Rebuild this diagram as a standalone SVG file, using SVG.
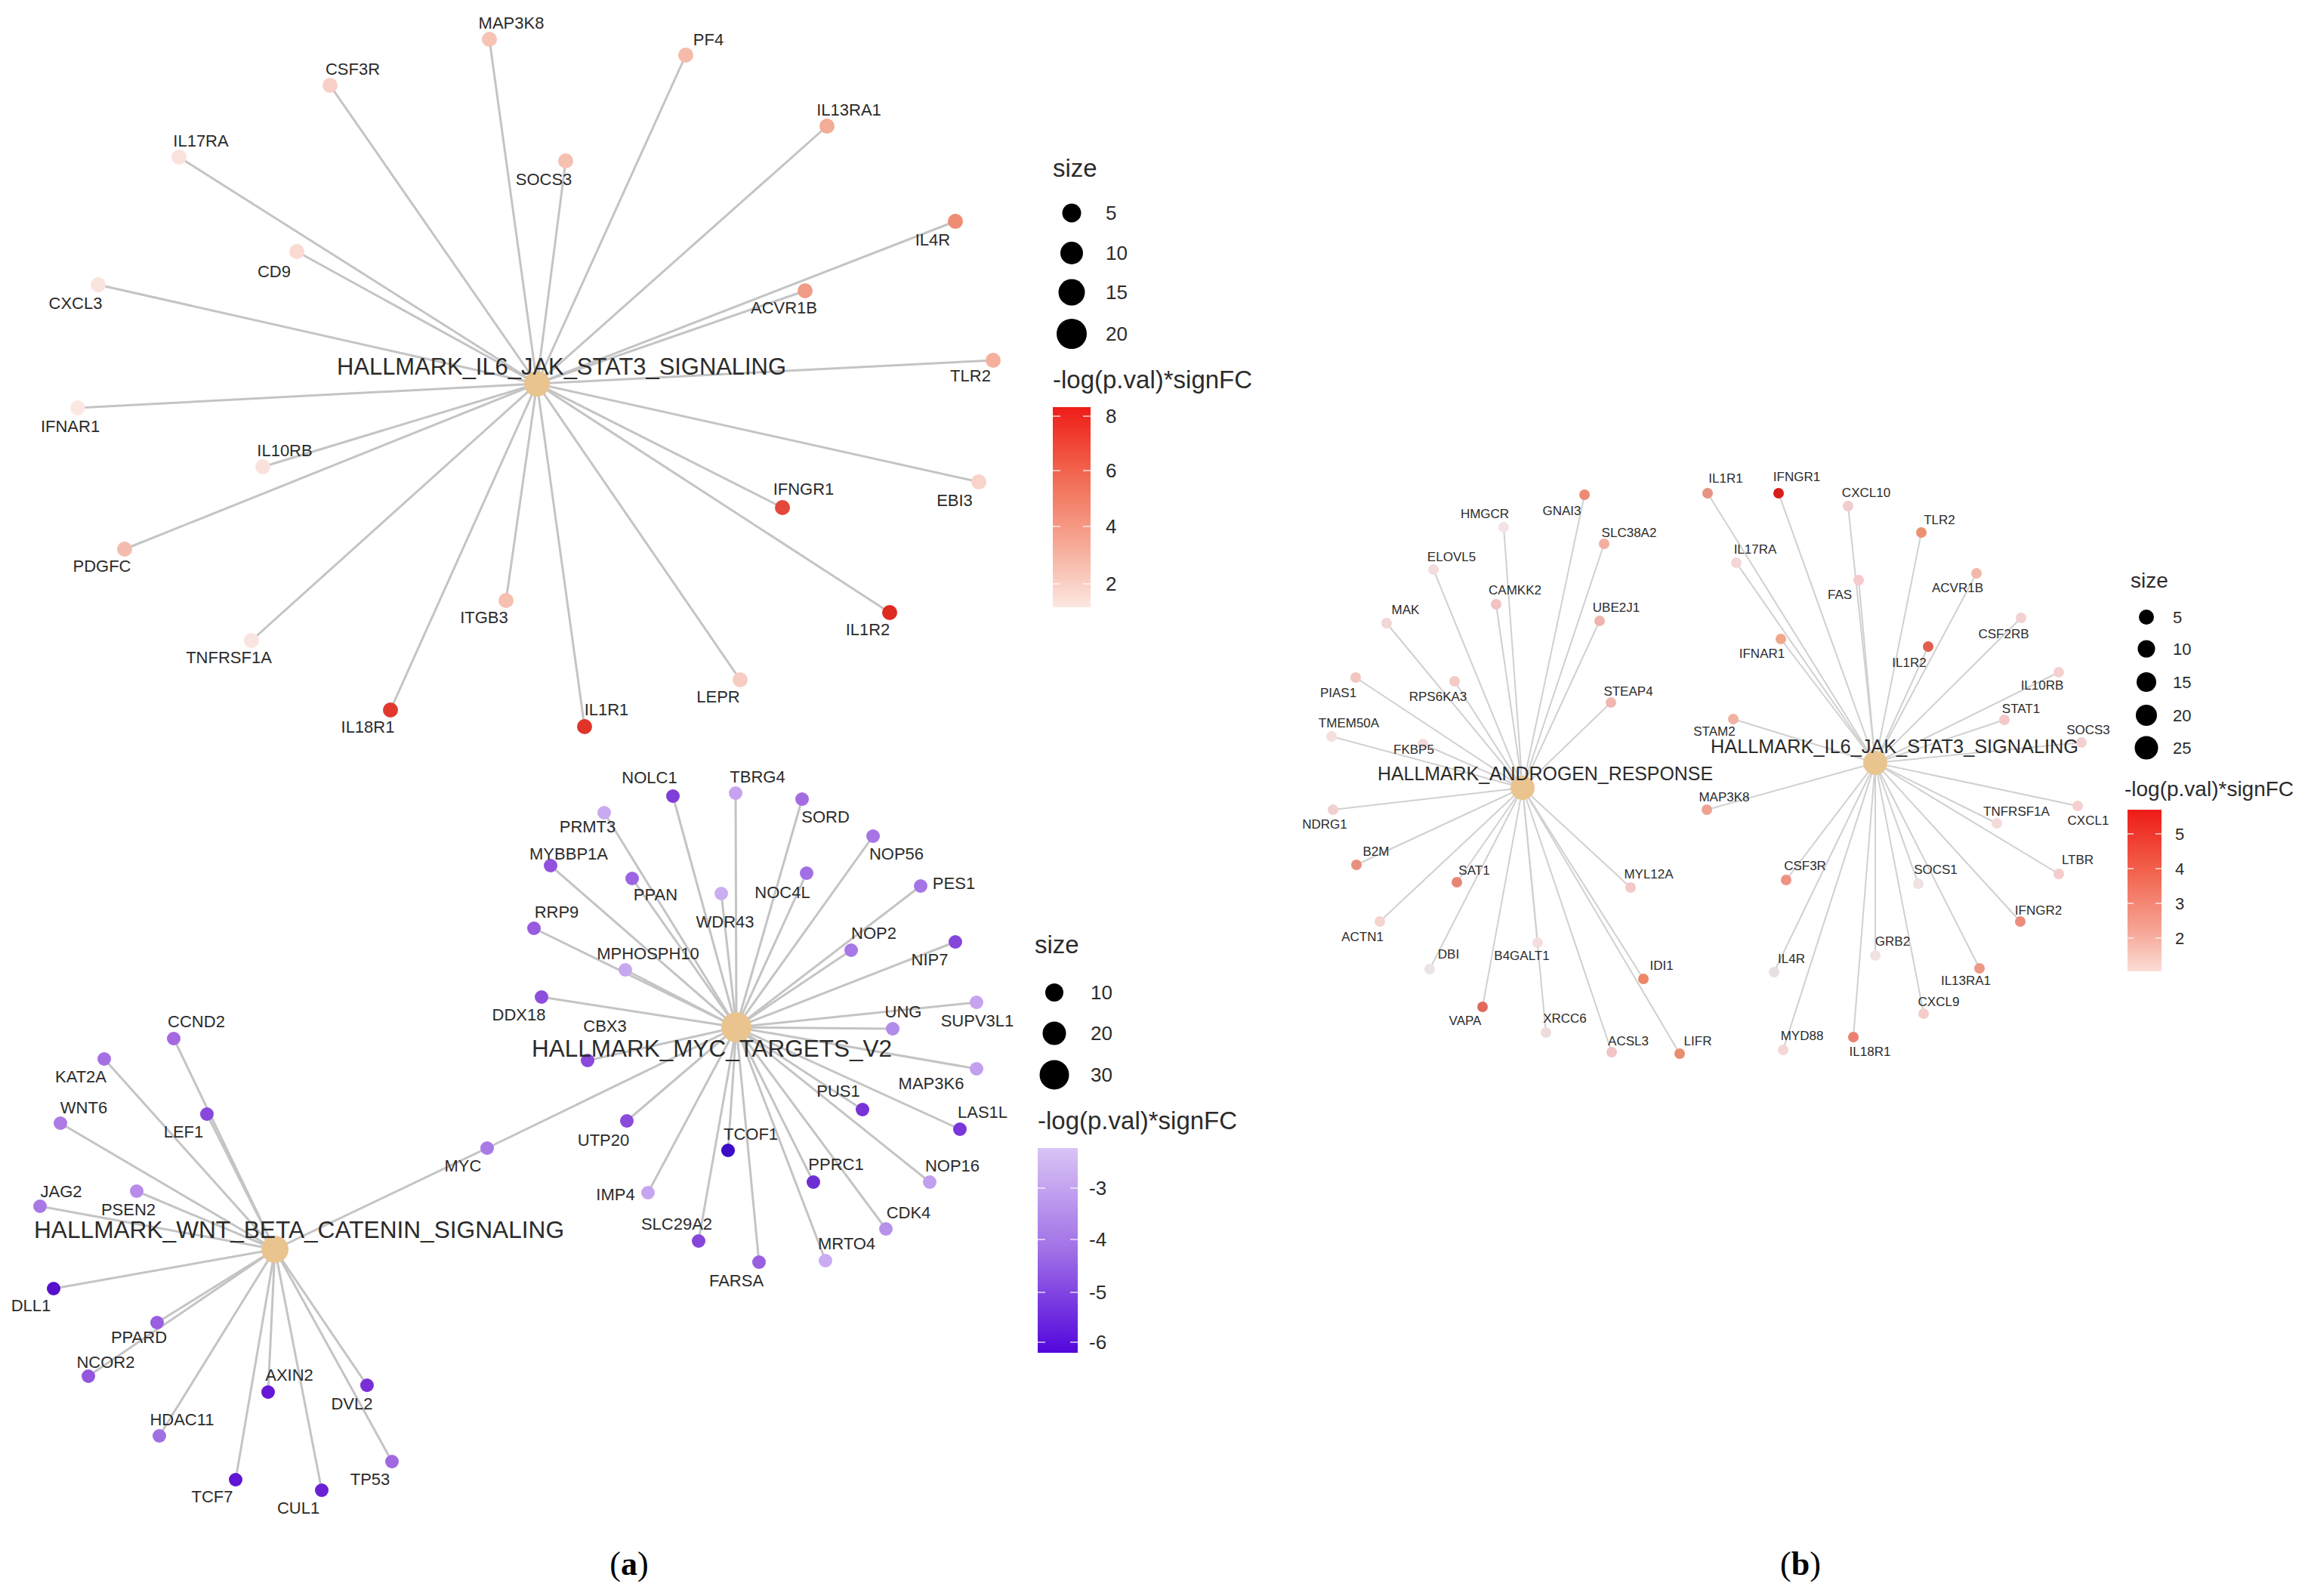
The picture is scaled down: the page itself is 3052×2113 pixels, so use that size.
<svg xmlns="http://www.w3.org/2000/svg" width="3052" height="2113" viewBox="0 0 3052 2113">
<defs>
<linearGradient id="gRed" x1="0" y1="0" x2="0" y2="1">
<stop offset="0" stop-color="#EE1D18"/><stop offset="0.35" stop-color="#F26A52"/><stop offset="0.68" stop-color="#F6A894"/><stop offset="1" stop-color="#FCE7E2"/>
</linearGradient>
<linearGradient id="gPur" x1="0" y1="0" x2="0" y2="1">
<stop offset="0" stop-color="#D9C3F5"/><stop offset="0.5" stop-color="#A070E6"/><stop offset="1" stop-color="#5306DC"/>
</linearGradient>
<linearGradient id="gRedB" x1="0" y1="0" x2="0" y2="1">
<stop offset="0" stop-color="#EE1C18"/><stop offset="0.4" stop-color="#F26650"/><stop offset="0.75" stop-color="#F6A696"/><stop offset="1" stop-color="#FBDDD7"/>
</linearGradient>
</defs>
<style>
text{font-family:"Liberation Sans",Arial,sans-serif;fill:#2b2b2b}
.e{stroke:#c4c4c4;stroke-width:3;fill:none}
.eb{stroke:#d0d0d0;stroke-width:2;fill:none}
.l{font-size:22px;text-anchor:middle}
.lb{font-size:17px;text-anchor:middle}
.hub{fill:#EAC48F}
.ht{font-size:31px}
.htb{font-size:25px}
.lt{font-size:33px}
.lk{font-size:26px}
.ltb{font-size:28px}
.lkb{font-size:22px}
.tk{stroke:#ffffff;stroke-width:1.5;opacity:0.8}
.pl{font-family:"Liberation Serif","Times New Roman",serif;font-size:44px;text-anchor:middle;fill:#000}
</style>
<rect width="3052" height="2113" fill="#ffffff"/>

<g id="connectors">
<g class="e">
<line x1="711" y1="508" x2="648" y2="52"/>
<line x1="711" y1="508" x2="437" y2="113"/>
<line x1="711" y1="508" x2="908" y2="73"/>
<line x1="711" y1="508" x2="1095" y2="167"/>
<line x1="711" y1="508" x2="237" y2="208"/>
<line x1="711" y1="508" x2="749" y2="213"/>
<line x1="711" y1="508" x2="1265" y2="293"/>
<line x1="711" y1="508" x2="393" y2="333"/>
<line x1="711" y1="508" x2="1066" y2="385"/>
<line x1="711" y1="508" x2="130" y2="377"/>
<line x1="711" y1="508" x2="1315" y2="477"/>
<line x1="711" y1="508" x2="103" y2="540"/>
<line x1="711" y1="508" x2="348" y2="618"/>
<line x1="711" y1="508" x2="1036" y2="672"/>
<line x1="711" y1="508" x2="1296" y2="638"/>
<line x1="711" y1="508" x2="165" y2="727"/>
<line x1="711" y1="508" x2="670" y2="795"/>
<line x1="711" y1="508" x2="1178" y2="811"/>
<line x1="711" y1="508" x2="333" y2="848"/>
<line x1="711" y1="508" x2="980" y2="900"/>
<line x1="711" y1="508" x2="517" y2="940"/>
<line x1="711" y1="508" x2="774" y2="962"/>
</g>
<g class="e">
<line x1="975" y1="1360" x2="891" y2="1054"/>
<line x1="975" y1="1360" x2="974" y2="1050"/>
<line x1="975" y1="1360" x2="1062" y2="1058"/>
<line x1="975" y1="1360" x2="800" y2="1076"/>
<line x1="975" y1="1360" x2="1156" y2="1107"/>
<line x1="975" y1="1360" x2="729" y2="1146"/>
<line x1="975" y1="1360" x2="837" y2="1163"/>
<line x1="975" y1="1360" x2="1068" y2="1156"/>
<line x1="975" y1="1360" x2="1219" y2="1173"/>
<line x1="975" y1="1360" x2="955" y2="1183"/>
<line x1="975" y1="1360" x2="707" y2="1229"/>
<line x1="975" y1="1360" x2="1127" y2="1258"/>
<line x1="975" y1="1360" x2="1265" y2="1247"/>
<line x1="975" y1="1360" x2="828" y2="1284"/>
<line x1="975" y1="1360" x2="717" y2="1320"/>
<line x1="975" y1="1360" x2="1182" y2="1362"/>
<line x1="975" y1="1360" x2="1293" y2="1327"/>
<line x1="975" y1="1360" x2="778" y2="1404"/>
<line x1="975" y1="1360" x2="1293" y2="1415"/>
<line x1="975" y1="1360" x2="1142" y2="1469"/>
<line x1="975" y1="1360" x2="1271" y2="1495"/>
<line x1="975" y1="1360" x2="830" y2="1484"/>
<line x1="975" y1="1360" x2="964" y2="1523"/>
<line x1="975" y1="1360" x2="1077" y2="1565"/>
<line x1="975" y1="1360" x2="1231" y2="1565"/>
<line x1="975" y1="1360" x2="858" y2="1579"/>
<line x1="975" y1="1360" x2="1173" y2="1627"/>
<line x1="975" y1="1360" x2="925" y2="1643"/>
<line x1="975" y1="1360" x2="1093" y2="1669"/>
<line x1="975" y1="1360" x2="1005" y2="1671"/>
<line x1="975" y1="1360" x2="645" y2="1520"/>
<line x1="364" y1="1654" x2="645" y2="1520"/>
</g>
<g class="e">
<line x1="364" y1="1654" x2="230" y2="1375"/>
<line x1="364" y1="1654" x2="138" y2="1402"/>
<line x1="364" y1="1654" x2="80" y2="1487"/>
<line x1="364" y1="1654" x2="274" y2="1475"/>
<line x1="364" y1="1654" x2="53" y2="1597"/>
<line x1="364" y1="1654" x2="181" y2="1577"/>
<line x1="364" y1="1654" x2="71" y2="1706"/>
<line x1="364" y1="1654" x2="208" y2="1751"/>
<line x1="364" y1="1654" x2="117" y2="1822"/>
<line x1="364" y1="1654" x2="355" y2="1843"/>
<line x1="364" y1="1654" x2="486" y2="1834"/>
<line x1="364" y1="1654" x2="211" y2="1901"/>
<line x1="364" y1="1654" x2="519" y2="1935"/>
<line x1="364" y1="1654" x2="312" y2="1959"/>
<line x1="364" y1="1654" x2="426" y2="1973"/>
</g>
<g class="eb">
<line x1="2016" y1="1043" x2="1991" y2="698"/>
<line x1="2016" y1="1043" x2="2098" y2="655"/>
<line x1="2016" y1="1043" x2="2124" y2="720"/>
<line x1="2016" y1="1043" x2="1898" y2="754"/>
<line x1="2016" y1="1043" x2="1981" y2="800"/>
<line x1="2016" y1="1043" x2="1836" y2="825"/>
<line x1="2016" y1="1043" x2="2118" y2="822"/>
<line x1="2016" y1="1043" x2="1795" y2="897"/>
<line x1="2016" y1="1043" x2="1926" y2="902"/>
<line x1="2016" y1="1043" x2="2133" y2="930"/>
<line x1="2016" y1="1043" x2="1763" y2="975"/>
<line x1="2016" y1="1043" x2="1884" y2="985"/>
<line x1="2016" y1="1043" x2="1765" y2="1072"/>
<line x1="2016" y1="1043" x2="1796" y2="1145"/>
<line x1="2016" y1="1043" x2="1929" y2="1168"/>
<line x1="2016" y1="1043" x2="2159" y2="1175"/>
<line x1="2016" y1="1043" x2="1827" y2="1220"/>
<line x1="2016" y1="1043" x2="1893" y2="1283"/>
<line x1="2016" y1="1043" x2="2036" y2="1248"/>
<line x1="2016" y1="1043" x2="2176" y2="1296"/>
<line x1="2016" y1="1043" x2="1963" y2="1333"/>
<line x1="2016" y1="1043" x2="2047" y2="1367"/>
<line x1="2016" y1="1043" x2="2134" y2="1393"/>
<line x1="2016" y1="1043" x2="2224" y2="1395"/>
</g>
<g class="eb">
<line x1="2483" y1="1010" x2="2261" y2="653"/>
<line x1="2483" y1="1010" x2="2355" y2="653"/>
<line x1="2483" y1="1010" x2="2447" y2="670"/>
<line x1="2483" y1="1010" x2="2544" y2="705"/>
<line x1="2483" y1="1010" x2="2299" y2="745"/>
<line x1="2483" y1="1010" x2="2461" y2="768"/>
<line x1="2483" y1="1010" x2="2617" y2="759"/>
<line x1="2483" y1="1010" x2="2676" y2="818"/>
<line x1="2483" y1="1010" x2="2358" y2="846"/>
<line x1="2483" y1="1010" x2="2553" y2="856"/>
<line x1="2483" y1="1010" x2="2726" y2="890"/>
<line x1="2483" y1="1010" x2="2654" y2="953"/>
<line x1="2483" y1="1010" x2="2756" y2="983"/>
<line x1="2483" y1="1010" x2="2295" y2="952"/>
<line x1="2483" y1="1010" x2="2260" y2="1072"/>
<line x1="2483" y1="1010" x2="2644" y2="1090"/>
<line x1="2483" y1="1010" x2="2751" y2="1067"/>
<line x1="2483" y1="1010" x2="2726" y2="1157"/>
<line x1="2483" y1="1010" x2="2365" y2="1165"/>
<line x1="2483" y1="1010" x2="2540" y2="1170"/>
<line x1="2483" y1="1010" x2="2675" y2="1220"/>
<line x1="2483" y1="1010" x2="2483" y2="1265"/>
<line x1="2483" y1="1010" x2="2349" y2="1287"/>
<line x1="2483" y1="1010" x2="2621" y2="1282"/>
<line x1="2483" y1="1010" x2="2547" y2="1342"/>
<line x1="2483" y1="1010" x2="2361" y2="1390"/>
<line x1="2483" y1="1010" x2="2454" y2="1373"/>
</g>
</g>

<g id="a1-nodes">
<g id="a1-hub"><circle class="hub" cx="711" cy="508" r="17"/></g>
<g id="a1-MAP3K8"><circle cx="648" cy="52" r="10" fill="#F6C3B5"/><text class="l" x="677" y="38">MAP3K8</text></g>
<g id="a1-CSF3R"><circle cx="437" cy="113" r="10" fill="#F8CFC6"/><text class="l" x="467" y="99">CSF3R</text></g>
<g id="a1-PF4"><circle cx="908" cy="73" r="10" fill="#F5BAA8"/><text class="l" x="938" y="60">PF4</text></g>
<g id="a1-IL13RA1"><circle cx="1095" cy="167" r="10" fill="#F3AC96"/><text class="l" x="1124" y="153">IL13RA1</text></g>
<g id="a1-IL17RA"><circle cx="237" cy="208" r="10" fill="#FBE2DC"/><text class="l" x="266" y="194">IL17RA</text></g>
<g id="a1-SOCS3"><circle cx="749" cy="213" r="10" fill="#F6C0B1"/><text class="l" x="720" y="245">SOCS3</text></g>
<g id="a1-IL4R"><circle cx="1265" cy="293" r="10" fill="#EE8D74"/><text class="l" x="1235" y="325">IL4R</text></g>
<g id="a1-CD9"><circle cx="393" cy="333" r="10" fill="#FADAD2"/><text class="l" x="363" y="367">CD9</text></g>
<g id="a1-ACVR1B"><circle cx="1066" cy="385" r="10" fill="#F09C86"/><text class="l" x="1038" y="415">ACVR1B</text></g>
<g id="a1-CXCL3"><circle cx="130" cy="377" r="10" fill="#FBE3DE"/><text class="l" x="100" y="409">CXCL3</text></g>
<g id="a1-TLR2"><circle cx="1315" cy="477" r="10" fill="#F4B09C"/><text class="l" x="1285" y="505">TLR2</text></g>
<g id="a1-IFNAR1"><circle cx="103" cy="540" r="10" fill="#FCE8E3"/><text class="l" x="93" y="572">IFNAR1</text></g>
<g id="a1-IL10RB"><circle cx="348" cy="618" r="10" fill="#FAE2DC"/><text class="l" x="377" y="604">IL10RB</text></g>
<g id="a1-IFNGR1"><circle cx="1036" cy="672" r="10" fill="#E4483A"/><text class="l" x="1064" y="655">IFNGR1</text></g>
<g id="a1-EBI3"><circle cx="1296" cy="638" r="10" fill="#F8D3CA"/><text class="l" x="1264" y="670">EBI3</text></g>
<g id="a1-PDGFC"><circle cx="165" cy="727" r="10" fill="#F4BCAE"/><text class="l" x="135" y="757">PDGFC</text></g>
<g id="a1-ITGB3"><circle cx="670" cy="795" r="10" fill="#F5C0AF"/><text class="l" x="641" y="825">ITGB3</text></g>
<g id="a1-IL1R2"><circle cx="1178" cy="811" r="10" fill="#DF2A22"/><text class="l" x="1149" y="841">IL1R2</text></g>
<g id="a1-TNFRSF1A"><circle cx="333" cy="848" r="10" fill="#FAE4DF"/><text class="l" x="303" y="878">TNFRSF1A</text></g>
<g id="a1-LEPR"><circle cx="980" cy="900" r="10" fill="#F7CCC2"/><text class="l" x="951" y="930">LEPR</text></g>
<g id="a1-IL18R1"><circle cx="517" cy="940" r="10" fill="#E1392E"/><text class="l" x="487" y="970">IL18R1</text></g>
<g id="a1-IL1R1"><circle cx="774" cy="962" r="10" fill="#E13429"/><text class="l" x="803" y="947">IL1R1</text></g>
<g id="a1-hub-label"><text class="ht" x="446" y="496" textLength="595" lengthAdjust="spacingAndGlyphs">HALLMARK_IL6_JAK_STAT3_SIGNALING</text></g>
</g>

<g id="a2-nodes">
<g id="a2-hub"><circle class="hub" cx="975" cy="1360" r="20"/></g>
<g id="a2-NOLC1"><circle cx="891" cy="1054" r="9" fill="#7E3ED8"/><text class="l" x="860" y="1037">NOLC1</text></g>
<g id="a2-TBRG4"><circle cx="974" cy="1050" r="9" fill="#C6A3F0"/><text class="l" x="1003" y="1036">TBRG4</text></g>
<g id="a2-SORD"><circle cx="1062" cy="1058" r="9" fill="#A46CE3"/><text class="l" x="1093" y="1089">SORD</text></g>
<g id="a2-PRMT3"><circle cx="800" cy="1076" r="9" fill="#C9AAF1"/><text class="l" x="778" y="1102">PRMT3</text></g>
<g id="a2-NOP56"><circle cx="1156" cy="1107" r="9" fill="#A674E5"/><text class="l" x="1187" y="1138">NOP56</text></g>
<g id="a2-MYBBP1A"><circle cx="729" cy="1146" r="9" fill="#9352DE"/><text class="l" x="753" y="1138">MYBBP1A</text></g>
<g id="a2-PPAN"><circle cx="837" cy="1163" r="9" fill="#9C64E1"/><text class="l" x="868" y="1192">PPAN</text></g>
<g id="a2-NOC4L"><circle cx="1068" cy="1156" r="9" fill="#A270E4"/><text class="l" x="1036" y="1189">NOC4L</text></g>
<g id="a2-PES1"><circle cx="1219" cy="1173" r="9" fill="#A476E5"/><text class="l" x="1263" y="1177">PES1</text></g>
<g id="a2-WDR43"><circle cx="955" cy="1183" r="9" fill="#CBAEF2"/><text class="l" x="960" y="1228">WDR43</text></g>
<g id="a2-RRP9"><circle cx="707" cy="1229" r="9" fill="#985ADF"/><text class="l" x="737" y="1215">RRP9</text></g>
<g id="a2-NOP2"><circle cx="1127" cy="1258" r="9" fill="#A878E6"/><text class="l" x="1157" y="1243">NOP2</text></g>
<g id="a2-NIP7"><circle cx="1265" cy="1247" r="9" fill="#8646DA"/><text class="l" x="1231" y="1278">NIP7</text></g>
<g id="a2-MPHOSPH10"><circle cx="828" cy="1284" r="9" fill="#C7A6F0"/><text class="l" x="858" y="1270">MPHOSPH10</text></g>
<g id="a2-DDX18"><circle cx="717" cy="1320" r="9" fill="#8E4EDD"/><text class="l" x="687" y="1351">DDX18</text></g>
<g id="a2-UNG"><circle cx="1182" cy="1362" r="9" fill="#B28CEA"/><text class="l" x="1196" y="1347">UNG</text></g>
<g id="a2-SUPV3L1"><circle cx="1293" cy="1327" r="9" fill="#C5A3EF"/><text class="l" x="1294" y="1359">SUPV3L1</text></g>
<g id="a2-CBX3"><circle cx="778" cy="1404" r="9" fill="#8A48DC"/><text class="l" x="801" y="1366">CBX3</text></g>
<g id="a2-MAP3K6"><circle cx="1293" cy="1415" r="9" fill="#C2A0EF"/><text class="l" x="1233" y="1442">MAP3K6</text></g>
<g id="a2-PUS1"><circle cx="1142" cy="1469" r="9" fill="#7834D7"/><text class="l" x="1110" y="1452">PUS1</text></g>
<g id="a2-LAS1L"><circle cx="1271" cy="1495" r="9" fill="#7A36D8"/><text class="l" x="1301" y="1480">LAS1L</text></g>
<g id="a2-UTP20"><circle cx="830" cy="1484" r="9" fill="#8A4ADC"/><text class="l" x="799" y="1517">UTP20</text></g>
<g id="a2-TCOF1"><circle cx="964" cy="1523" r="9" fill="#3C0CC8"/><text class="l" x="994" y="1509">TCOF1</text></g>
<g id="a2-PPRC1"><circle cx="1077" cy="1565" r="9" fill="#6E2ED6"/><text class="l" x="1107" y="1549">PPRC1</text></g>
<g id="a2-NOP16"><circle cx="1231" cy="1565" r="9" fill="#C0A0EE"/><text class="l" x="1261" y="1551">NOP16</text></g>
<g id="a2-IMP4"><circle cx="858" cy="1579" r="9" fill="#C6A6F0"/><text class="l" x="815" y="1589">IMP4</text></g>
<g id="a2-CDK4"><circle cx="1173" cy="1627" r="9" fill="#B692EA"/><text class="l" x="1203" y="1613">CDK4</text></g>
<g id="a2-SLC29A2"><circle cx="925" cy="1643" r="9" fill="#8646DA"/><text class="l" x="896" y="1628">SLC29A2</text></g>
<g id="a2-MRTO4"><circle cx="1093" cy="1669" r="9" fill="#CAACF2"/><text class="l" x="1121" y="1654">MRTO4</text></g>
<g id="a2-FARSA"><circle cx="1005" cy="1671" r="9" fill="#9A5EE0"/><text class="l" x="975" y="1703">FARSA</text></g>
<g id="a2-MYC"><circle cx="645" cy="1520" r="9" fill="#A87AE6"/><text class="l" x="613" y="1551">MYC</text></g>
<g id="a2-hub-label"><text class="ht" x="704" y="1399" textLength="477" lengthAdjust="spacingAndGlyphs">HALLMARK_MYC_TARGETS_V2</text></g>
</g>

<g id="a3-nodes">
<g id="a3-hub"><circle class="hub" cx="364" cy="1654" r="18"/></g>
<g id="a3-CCND2"><circle cx="230" cy="1375" r="9" fill="#A468E1"/><text class="l" x="260" y="1360">CCND2</text></g>
<g id="a3-KAT2A"><circle cx="138" cy="1402" r="9" fill="#A670E3"/><text class="l" x="107" y="1433">KAT2A</text></g>
<g id="a3-WNT6"><circle cx="80" cy="1487" r="9" fill="#AC7BE6"/><text class="l" x="111" y="1474">WNT6</text></g>
<g id="a3-LEF1"><circle cx="274" cy="1475" r="9" fill="#8848DC"/><text class="l" x="243" y="1506">LEF1</text></g>
<g id="a3-JAG2"><circle cx="53" cy="1597" r="9" fill="#AA78E5"/><text class="l" x="81" y="1585">JAG2</text></g>
<g id="a3-PSEN2"><circle cx="181" cy="1577" r="9" fill="#B88CEB"/><text class="l" x="170" y="1609">PSEN2</text></g>
<g id="a3-DLL1"><circle cx="71" cy="1706" r="9" fill="#5810CE"/><text class="l" x="41" y="1736">DLL1</text></g>
<g id="a3-PPARD"><circle cx="208" cy="1751" r="9" fill="#9A5EE0"/><text class="l" x="184" y="1778">PPARD</text></g>
<g id="a3-NCOR2"><circle cx="117" cy="1822" r="9" fill="#9456DE"/><text class="l" x="140" y="1811">NCOR2</text></g>
<g id="a3-AXIN2"><circle cx="355" cy="1843" r="9" fill="#6618D4"/><text class="l" x="383" y="1828">AXIN2</text></g>
<g id="a3-DVL2"><circle cx="486" cy="1834" r="9" fill="#7A2ED8"/><text class="l" x="466" y="1866">DVL2</text></g>
<g id="a3-HDAC11"><circle cx="211" cy="1901" r="9" fill="#A070E2"/><text class="l" x="241" y="1887">HDAC11</text></g>
<g id="a3-TP53"><circle cx="519" cy="1935" r="9" fill="#A068E1"/><text class="l" x="490" y="1966">TP53</text></g>
<g id="a3-TCF7"><circle cx="312" cy="1959" r="9" fill="#6016D2"/><text class="l" x="281" y="1989">TCF7</text></g>
<g id="a3-CUL1"><circle cx="426" cy="1973" r="9" fill="#6A20D4"/><text class="l" x="395" y="2004">CUL1</text></g>
<g id="a3-hub-label"><text class="ht" x="45" y="1639" textLength="702" lengthAdjust="spacingAndGlyphs">HALLMARK_WNT_BETA_CATENIN_SIGNALING</text></g>
</g>

<g id="a-legend-top">
<text class="lt" x="1394" y="234">size</text>
<circle cx="1419" cy="282" r="12.5" fill="#000"/><text class="lk" x="1464" y="291">5</text>
<circle cx="1419" cy="335" r="15" fill="#000"/><text class="lk" x="1464" y="344">10</text>
<circle cx="1419" cy="387" r="17.5" fill="#000"/><text class="lk" x="1464" y="396">15</text>
<circle cx="1419" cy="442" r="20" fill="#000"/><text class="lk" x="1464" y="451">20</text>
<text class="lt" x="1394" y="514">-log(p.val)*signFC</text>
<rect x="1394" y="539" width="50" height="265" fill="url(#gRed)"/>
<line class="tk" x1="1394" y1="551" x2="1404" y2="551"/><line class="tk" x1="1434" y1="551" x2="1444" y2="551"/>
<line class="tk" x1="1394" y1="623" x2="1404" y2="623"/><line class="tk" x1="1434" y1="623" x2="1444" y2="623"/>
<line class="tk" x1="1394" y1="697" x2="1404" y2="697"/><line class="tk" x1="1434" y1="697" x2="1444" y2="697"/>
<line class="tk" x1="1394" y1="773" x2="1404" y2="773"/><line class="tk" x1="1434" y1="773" x2="1444" y2="773"/>
<text class="lk" x="1464" y="560">8</text>
<text class="lk" x="1464" y="632">6</text>
<text class="lk" x="1464" y="706">4</text>
<text class="lk" x="1464" y="782">2</text>
</g>
<g id="a-legend-mid">
<text class="lt" x="1370" y="1262">size</text>
<circle cx="1396" cy="1314" r="12" fill="#000"/><text class="lk" x="1444" y="1323">10</text>
<circle cx="1396" cy="1368" r="15.5" fill="#000"/><text class="lk" x="1444" y="1377">20</text>
<circle cx="1396" cy="1423" r="19.5" fill="#000"/><text class="lk" x="1444" y="1432">30</text>
<text class="lt" x="1374" y="1495">-log(p.val)*signFC</text>
<rect x="1374" y="1520" width="53" height="271" fill="url(#gPur)"/>
<line class="tk" x1="1374" y1="1573" x2="1384" y2="1573"/><line class="tk" x1="1417" y1="1573" x2="1427" y2="1573"/>
<line class="tk" x1="1374" y1="1641" x2="1384" y2="1641"/><line class="tk" x1="1417" y1="1641" x2="1427" y2="1641"/>
<line class="tk" x1="1374" y1="1711" x2="1384" y2="1711"/><line class="tk" x1="1417" y1="1711" x2="1427" y2="1711"/>
<line class="tk" x1="1374" y1="1777" x2="1384" y2="1777"/><line class="tk" x1="1417" y1="1777" x2="1427" y2="1777"/>
<text class="lk" x="1442" y="1582">-3</text>
<text class="lk" x="1442" y="1650">-4</text>
<text class="lk" x="1442" y="1720">-5</text>
<text class="lk" x="1442" y="1786">-6</text>
</g>

<g id="b1-nodes">
<g id="b1-hub"><circle class="hub" cx="2016" cy="1043" r="16"/></g>
<g id="b1-HMGCR"><circle cx="1991" cy="698" r="7" fill="#F3E3E3"/><text class="lb" x="1966" y="686">HMGCR</text></g>
<g id="b1-GNAI3"><circle cx="2098" cy="655" r="7" fill="#EE8A74"/><text class="lb" x="2068" y="682">GNAI3</text></g>
<g id="b1-SLC38A2"><circle cx="2124" cy="720" r="7" fill="#F2AFA0"/><text class="lb" x="2157" y="711">SLC38A2</text></g>
<g id="b1-ELOVL5"><circle cx="1898" cy="754" r="7" fill="#F2DCDC"/><text class="lb" x="1922" y="743">ELOVL5</text></g>
<g id="b1-CAMKK2"><circle cx="1981" cy="800" r="7" fill="#F0C2C2"/><text class="lb" x="2006" y="787">CAMKK2</text></g>
<g id="b1-MAK"><circle cx="1836" cy="825" r="7" fill="#F2D6D6"/><text class="lb" x="1861" y="813">MAK</text></g>
<g id="b1-UBE2J1"><circle cx="2118" cy="822" r="7" fill="#F0B4AE"/><text class="lb" x="2140" y="810">UBE2J1</text></g>
<g id="b1-PIAS1"><circle cx="1795" cy="897" r="7" fill="#F2C6C0"/><text class="lb" x="1772" y="923">PIAS1</text></g>
<g id="b1-RPS6KA3"><circle cx="1926" cy="902" r="7" fill="#F3CAC4"/><text class="lb" x="1904" y="928">RPS6KA3</text></g>
<g id="b1-STEAP4"><circle cx="2133" cy="930" r="7" fill="#F0B8B0"/><text class="lb" x="2156" y="921">STEAP4</text></g>
<g id="b1-TMEM50A"><circle cx="1763" cy="975" r="7" fill="#F6DEDE"/><text class="lb" x="1786" y="963">TMEM50A</text></g>
<g id="b1-FKBP5"><circle cx="1884" cy="985" r="7" fill="#F5DADA"/><text class="lb" x="1872" y="998">FKBP5</text></g>
<g id="b1-NDRG1"><circle cx="1765" cy="1072" r="7" fill="#F2D0D0"/><text class="lb" x="1754" y="1097">NDRG1</text></g>
<g id="b1-B2M"><circle cx="1796" cy="1145" r="7" fill="#E8907E"/><text class="lb" x="1822" y="1133">B2M</text></g>
<g id="b1-SAT1"><circle cx="1929" cy="1168" r="7" fill="#E88676"/><text class="lb" x="1952" y="1158">SAT1</text></g>
<g id="b1-MYL12A"><circle cx="2159" cy="1175" r="7" fill="#F2C8C8"/><text class="lb" x="2183" y="1163">MYL12A</text></g>
<g id="b1-ACTN1"><circle cx="1827" cy="1220" r="7" fill="#F5D4D0"/><text class="lb" x="1804" y="1246">ACTN1</text></g>
<g id="b1-DBI"><circle cx="1893" cy="1283" r="7" fill="#ECE4E4"/><text class="lb" x="1918" y="1269">DBI</text></g>
<g id="b1-B4GALT1"><circle cx="2036" cy="1248" r="7" fill="#F3DDDD"/><text class="lb" x="2015" y="1271">B4GALT1</text></g>
<g id="b1-IDI1"><circle cx="2176" cy="1296" r="7" fill="#EC8868"/><text class="lb" x="2200" y="1284">IDI1</text></g>
<g id="b1-VAPA"><circle cx="1963" cy="1333" r="7" fill="#DE6A5C"/><text class="lb" x="1940" y="1357">VAPA</text></g>
<g id="b1-XRCC6"><circle cx="2047" cy="1367" r="7" fill="#EEDCDC"/><text class="lb" x="2072" y="1354">XRCC6</text></g>
<g id="b1-ACSL3"><circle cx="2134" cy="1393" r="7" fill="#F2C4C4"/><text class="lb" x="2156" y="1384">ACSL3</text></g>
<g id="b1-LIFR"><circle cx="2224" cy="1395" r="7" fill="#E88E6E"/><text class="lb" x="2248" y="1384">LIFR</text></g>
<g id="b1-hub-label"><text class="htb" x="1824" y="1033" textLength="444" lengthAdjust="spacingAndGlyphs">HALLMARK_ANDROGEN_RESPONSE</text></g>
</g>

<g id="b2-nodes">
<g id="b2-hub"><circle class="hub" cx="2483" cy="1010" r="16"/></g>
<g id="b2-IL1R1"><circle cx="2261" cy="653" r="7" fill="#E89282"/><text class="lb" x="2285" y="639">IL1R1</text></g>
<g id="b2-IFNGR1"><circle cx="2355" cy="653" r="7" fill="#D81E1A"/><text class="lb" x="2379" y="637">IFNGR1</text></g>
<g id="b2-CXCL10"><circle cx="2447" cy="670" r="7" fill="#F2CCCC"/><text class="lb" x="2471" y="658">CXCL10</text></g>
<g id="b2-TLR2"><circle cx="2544" cy="705" r="7" fill="#EC9274"/><text class="lb" x="2568" y="694">TLR2</text></g>
<g id="b2-IL17RA"><circle cx="2299" cy="745" r="7" fill="#F5D6D6"/><text class="lb" x="2324" y="733">IL17RA</text></g>
<g id="b2-FAS"><circle cx="2461" cy="768" r="7" fill="#F5CACA"/><text class="lb" x="2436" y="793">FAS</text></g>
<g id="b2-ACVR1B"><circle cx="2617" cy="759" r="7" fill="#F2B8A8"/><text class="lb" x="2592" y="784">ACVR1B</text></g>
<g id="b2-CSF2RB"><circle cx="2676" cy="818" r="7" fill="#F5D0D0"/><text class="lb" x="2653" y="845">CSF2RB</text></g>
<g id="b2-IFNAR1"><circle cx="2358" cy="846" r="7" fill="#F0A88A"/><text class="lb" x="2333" y="871">IFNAR1</text></g>
<g id="b2-IL1R2"><circle cx="2553" cy="856" r="7" fill="#E05E50"/><text class="lb" x="2528" y="883">IL1R2</text></g>
<g id="b2-IL10RB"><circle cx="2726" cy="890" r="7" fill="#F5D0D0"/><text class="lb" x="2704" y="913">IL10RB</text></g>
<g id="b2-STAT1"><circle cx="2654" cy="953" r="7" fill="#F5C8C8"/><text class="lb" x="2676" y="944">STAT1</text></g>
<g id="b2-SOCS3"><circle cx="2756" cy="983" r="7" fill="#F5D0D0"/><text class="lb" x="2765" y="972">SOCS3</text></g>
<g id="b2-STAM2"><circle cx="2295" cy="952" r="7" fill="#F0B2A2"/><text class="lb" x="2270" y="974">STAM2</text></g>
<g id="b2-MAP3K8"><circle cx="2260" cy="1072" r="7" fill="#EEA292"/><text class="lb" x="2283" y="1061">MAP3K8</text></g>
<g id="b2-TNFRSF1A"><circle cx="2644" cy="1090" r="7" fill="#F5DADA"/><text class="lb" x="2670" y="1080">TNFRSF1A</text></g>
<g id="b2-CXCL1"><circle cx="2751" cy="1067" r="7" fill="#F5D0D0"/><text class="lb" x="2765" y="1092">CXCL1</text></g>
<g id="b2-LTBR"><circle cx="2726" cy="1157" r="7" fill="#F5CCCC"/><text class="lb" x="2751" y="1144">LTBR</text></g>
<g id="b2-CSF3R"><circle cx="2365" cy="1165" r="7" fill="#EE9282"/><text class="lb" x="2390" y="1152">CSF3R</text></g>
<g id="b2-SOCS1"><circle cx="2540" cy="1170" r="7" fill="#EEE2E2"/><text class="lb" x="2563" y="1157">SOCS1</text></g>
<g id="b2-IFNGR2"><circle cx="2675" cy="1220" r="7" fill="#EC8C7C"/><text class="lb" x="2699" y="1211">IFNGR2</text></g>
<g id="b2-GRB2"><circle cx="2483" cy="1265" r="7" fill="#F2E2E2"/><text class="lb" x="2506" y="1252">GRB2</text></g>
<g id="b2-IL4R"><circle cx="2349" cy="1287" r="7" fill="#E8E0E0"/><text class="lb" x="2372" y="1275">IL4R</text></g>
<g id="b2-IL13RA1"><circle cx="2621" cy="1282" r="7" fill="#EE9888"/><text class="lb" x="2603" y="1304">IL13RA1</text></g>
<g id="b2-CXCL9"><circle cx="2547" cy="1342" r="7" fill="#F5CCCC"/><text class="lb" x="2567" y="1332">CXCL9</text></g>
<g id="b2-MYD88"><circle cx="2361" cy="1390" r="7" fill="#F5D6D6"/><text class="lb" x="2386" y="1377">MYD88</text></g>
<g id="b2-IL18R1"><circle cx="2454" cy="1373" r="7" fill="#EC8070"/><text class="lb" x="2476" y="1398">IL18R1</text></g>
<g id="b2-hub-label"><text class="htb" x="2265" y="997" textLength="487" lengthAdjust="spacingAndGlyphs">HALLMARK_IL6_JAK_STAT3_SIGNALING</text></g>
</g>

<g id="b-legend">
<text class="ltb" x="2821" y="778">size</text>
<circle cx="2842" cy="817" r="10" fill="#000"/><text class="lkb" x="2877" y="825">5</text>
<circle cx="2842" cy="859" r="11.5" fill="#000"/><text class="lkb" x="2877" y="867">10</text>
<circle cx="2842" cy="903" r="13" fill="#000"/><text class="lkb" x="2877" y="911">15</text>
<circle cx="2842" cy="947" r="14" fill="#000"/><text class="lkb" x="2877" y="955">20</text>
<circle cx="2842" cy="990" r="15.5" fill="#000"/><text class="lkb" x="2877" y="998">25</text>
<text class="ltb" x="2813" y="1054">-log(p.val)*signFC</text>
<rect x="2817" y="1072" width="45" height="214" fill="url(#gRedB)"/>
<line class="tk" x1="2817" y1="1104" x2="2825" y2="1104"/><line class="tk" x1="2854" y1="1104" x2="2862" y2="1104"/>
<line class="tk" x1="2817" y1="1150" x2="2825" y2="1150"/><line class="tk" x1="2854" y1="1150" x2="2862" y2="1150"/>
<line class="tk" x1="2817" y1="1196" x2="2825" y2="1196"/><line class="tk" x1="2854" y1="1196" x2="2862" y2="1196"/>
<line class="tk" x1="2817" y1="1242" x2="2825" y2="1242"/><line class="tk" x1="2854" y1="1242" x2="2862" y2="1242"/>
<text class="lkb" x="2880" y="1112">5</text>
<text class="lkb" x="2880" y="1158">4</text>
<text class="lkb" x="2880" y="1204">3</text>
<text class="lkb" x="2880" y="1250">2</text>
</g>

<g id="panel-labels">
<text class="pl" x="833" y="2085">(<tspan font-weight="bold">a</tspan>)</text>
<text class="pl" x="2384" y="2085">(<tspan font-weight="bold">b</tspan>)</text>
</g>
</svg>
